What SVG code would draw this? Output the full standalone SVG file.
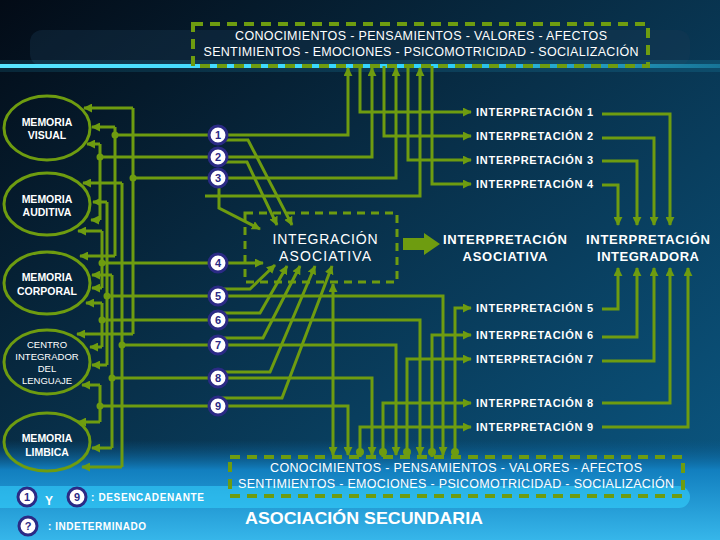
<svg xmlns="http://www.w3.org/2000/svg" width="720" height="540" viewBox="0 0 720 540">
<defs>
<linearGradient id="bg" x1="0" y1="0" x2="1" y2="1">
<stop offset="0" stop-color="#030b16"/>
<stop offset="0.45" stop-color="#08304a"/>
<stop offset="1" stop-color="#0b5a86"/>
</linearGradient>
<linearGradient id="bot" x1="0" y1="0" x2="0" y2="1">
<stop offset="0" stop-color="#0b5f96" stop-opacity="0"/>
<stop offset="0.3" stop-color="#127fbf"/>
<stop offset="1" stop-color="#36b6ea"/>
</linearGradient>
<linearGradient id="glow" x1="0" y1="0" x2="1" y2="0">
<stop offset="0" stop-color="#5fe8ff"/>
<stop offset="0.6" stop-color="#2fd4ff"/>
<stop offset="1" stop-color="#2fd4ff" stop-opacity="0.3"/>
</linearGradient>
<marker id="ah" viewBox="0 0 10 10" refX="9" refY="5" markerWidth="9" markerHeight="9" markerUnits="userSpaceOnUse" orient="auto-start-reverse">
<path d="M0,0 L10,5 L0,10 z" fill="#6e9c10"/>
</marker>
</defs>
<style>
.c{fill:none;stroke:#6e9c10;stroke-width:3}
.a{marker-end:url(#ah)}
.box{fill:none;stroke:#6e9c10;stroke-width:4;stroke-dasharray:10 7}
.ell{fill:none;stroke:#6e9c10;stroke-width:3}
.dot{fill:#6e9c10}
.t{font-family:"Liberation Sans",Arial,sans-serif;fill:#ffffff}
.b{font-weight:bold}
.nc{fill:#ffffff;stroke:#2b2a85;stroke-width:3}
.nt{font-family:"Liberation Sans",Arial,sans-serif;font-weight:bold;font-size:11px;fill:#2b2a85;text-anchor:middle}
</style>
<rect width="720" height="540" fill="url(#bg)"/>
<rect x="0" y="440" width="720" height="100" fill="url(#bot)"/>
<rect x="30" y="30" width="660" height="36" rx="12" fill="#1a3a52" opacity="0.35"/>
<rect x="0" y="64" width="720" height="4" fill="url(#glow)"/>
<rect x="0" y="60" width="720" height="12" fill="#2fd4ff" opacity="0.12"/>
<rect x="-10" y="486" width="700" height="22" rx="11" fill="#35d4ff" opacity="0.55"/>

<g id="connectors">
<!-- left bus: circle 1 -->
<path class="c" d="M210,135 H115 M115,127 V256"/>
<path class="c a" d="M115,127 H92"/><path class="c a" d="M115,256 H80"/>
<!-- circle 2 -->
<path class="c" d="M210,157 H100 M100,144 V220"/>
<path class="c a" d="M100,144 H87"/><path class="c a" d="M100,220 H91"/>
<!-- circle 3 -->
<path class="c" d="M210,178 H133 M133,108 V334"/>
<path class="c a" d="M133,108 H84"/><path class="c a" d="M133,334 H77"/>
<!-- circle 4 -->
<path class="c" d="M210,263 H102 M102,231 V288"/>
<path class="c a" d="M102,231 H78"/><path class="c a" d="M102,288 H92"/>
<!-- circle 5 -->
<path class="c" d="M210,296 H107 M107,202 V365"/>
<path class="c a" d="M107,202 H93"/><path class="c a" d="M107,365 H92"/>
<!-- circle 6 -->
<path class="c" d="M210,320 H102 M102,303 V347"/>
<path class="c a" d="M102,303 H86"/><path class="c a" d="M102,347 H90"/>
<!-- circle 7 -->
<path class="c" d="M210,345 H122 M122,183 V467"/>
<path class="c a" d="M122,183 H83"/><path class="c a" d="M122,467 H82"/>
<!-- circle 8 -->
<path class="c" d="M210,378 H112 M112,275 V448"/>
<path class="c a" d="M112,275 H92"/><path class="c a" d="M112,448 H92"/>
<!-- circle 9 -->
<path class="c" d="M210,406 H100 M100,385 V422"/>
<path class="c a" d="M100,385 H82"/><path class="c a" d="M100,422 H78"/>
<circle class="dot" cx="115" cy="135" r="3.5"/><circle class="dot" cx="100" cy="157" r="3.5"/>
<circle class="dot" cx="133" cy="178" r="3.5"/><circle class="dot" cx="102" cy="263" r="3.5"/>
<circle class="dot" cx="107" cy="296" r="3.5"/><circle class="dot" cx="102" cy="320" r="3.5"/>
<circle class="dot" cx="122" cy="345" r="3.5"/><circle class="dot" cx="112" cy="378" r="3.5"/>
<circle class="dot" cx="100" cy="406" r="3.5"/>

<!-- up to top box -->
<path class="c a" d="M220,135 H348 V68"/>
<path class="c a" d="M220,157 H372 V68"/>
<path class="c a" d="M220,178 H396 V68"/>
<path class="c a" d="M205,196 H420 V68"/>
<!-- top box down to interpretations 1-4 -->
<path class="c a" d="M360,66 V112 H471"/>
<path class="c a" d="M384,66 V136 H471"/>
<path class="c a" d="M408,66 V160 H471"/>
<path class="c a" d="M432,66 V184 H471"/>

<!-- diagonals into integracion -->
<path class="c a" d="M220,140 H248 L292,225"/>
<path class="c a" d="M220,162 H247 L277,225"/>
<path class="c a" d="M219,187 V208 L260,229"/>
<path class="c a" d="M220,263 H263"/>
<path class="c a" d="M220,289 H250 L275,265"/>
<path class="c a" d="M220,313 H260 L287,266"/>
<path class="c a" d="M220,338 H263 L300,266"/>
<path class="c a" d="M220,372 H270 L315,266"/>
<path class="c a" d="M220,398 H282 L332,266"/>

<!-- down to bottom box -->
<path class="c a" d="M220,296 H443 V455"/>
<path class="c a" d="M220,320 H420 V455"/>
<path class="c a" d="M220,345 H396 V455"/>
<path class="c a" d="M220,378 H372 V455"/>
<path class="c a" d="M220,406 H348 V455"/>
<path class="c a" d="M333,284 V455" style="marker-start:url(#ah)"/>
<!-- bottom box up to interpretations 5-9 -->
<path class="c a" d="M455,457 V308 H471"/>
<path class="c a" d="M432,457 V335 H471"/>
<path class="c a" d="M407,457 V359 H471"/>
<path class="c a" d="M383,457 V403 H471"/>
<path class="c a" d="M360,457 V427 H471"/>
<circle class="dot" cx="360" cy="452" r="4"/><circle class="dot" cx="383" cy="452" r="4"/>
<circle class="dot" cx="407" cy="452" r="4"/><circle class="dot" cx="432" cy="452" r="4"/>
<circle class="dot" cx="455" cy="452" r="4"/>

<!-- block arrow -->
<path d="M403,238 H424 V233 L440,244 L424,255 V250 H403 z" fill="#6e9c10"/>

<!-- right side to integradora -->
<path class="c a" d="M602,114 H670 V225"/>
<path class="c a" d="M602,138 H654 V225"/>
<path class="c a" d="M602,161 H637 V225"/>
<path class="c a" d="M602,185 H618 V225"/>
<path class="c a" d="M602,309 H618 V268"/>
<path class="c a" d="M602,337 H637 V268"/>
<path class="c a" d="M602,361 H654 V268"/>
<path class="c a" d="M602,403 H670 V268"/>
<path class="c a" d="M602,427 H688 V268"/>
</g>

<g id="top-box">
<rect class="box" x="193" y="24" width="455" height="42"/>
<text class="t" x="421" y="40" font-size="12.5" text-anchor="middle" textLength="372" lengthAdjust="spacing">CONOCIMIENTOS - PENSAMIENTOS - VALORES - AFECTOS</text>
<text class="t" x="421" y="56" font-size="12.5" text-anchor="middle" textLength="435" lengthAdjust="spacing">SENTIMIENTOS - EMOCIONES - PSICOMOTRICIDAD - SOCIALIZACIÓN</text>
</g>
<g id="bottom-box">
<rect class="box" x="230" y="457" width="453" height="39"/>
<text class="t" x="456" y="472" font-size="12.5" text-anchor="middle" textLength="372" lengthAdjust="spacing">CONOCIMIENTOS - PENSAMIENTOS - VALORES - AFECTOS</text>
<text class="t" x="456" y="488" font-size="12.5" text-anchor="middle" textLength="436" lengthAdjust="spacing">SENTIMIENTOS - EMOCIONES - PSICOMOTRICIDAD - SOCIALIZACIÓN</text>
</g>

<g id="memoria-visual"><ellipse class="ell" cx="47" cy="128" rx="43" ry="32"/>
<text class="t b" x="47" y="126" font-size="10.5" text-anchor="middle">MEMORIA</text>
<text class="t b" x="47" y="139" font-size="10.5" text-anchor="middle">VISUAL</text></g>
<g id="memoria-auditiva"><ellipse class="ell" cx="47" cy="204" rx="43" ry="31"/>
<text class="t b" x="47" y="203" font-size="10.5" text-anchor="middle">MEMORIA</text>
<text class="t b" x="47" y="216" font-size="10.5" text-anchor="middle">AUDITIVA</text></g>
<g id="memoria-corporal"><ellipse class="ell" cx="47" cy="283" rx="43" ry="31"/>
<text class="t b" x="47" y="281" font-size="10.5" text-anchor="middle">MEMORIA</text>
<text class="t b" x="47" y="295" font-size="10.5" text-anchor="middle">CORPORAL</text></g>
<g id="centro-lenguaje"><ellipse class="ell" cx="47" cy="362" rx="43" ry="32"/>
<text class="t" x="47" y="348" font-size="9.5" text-anchor="middle">CENTRO</text>
<text class="t" x="47" y="360" font-size="9.5" text-anchor="middle">INTEGRADOR</text>
<text class="t" x="47" y="372" font-size="9.5" text-anchor="middle">DEL</text>
<text class="t" x="47" y="384" font-size="9.5" text-anchor="middle">LENGUAJE</text></g>
<g id="memoria-limbica"><ellipse class="ell" cx="47" cy="442" rx="43" ry="29"/>
<text class="t b" x="47" y="442" font-size="10.5" text-anchor="middle">MEMORIA</text>
<text class="t b" x="47" y="456" font-size="10.5" text-anchor="middle">LIMBICA</text></g>

<g id="n1"><circle class="nc" cx="218" cy="135" r="9"/><text class="nt" x="218" y="139">1</text></g>
<g id="n2"><circle class="nc" cx="218" cy="157" r="9"/><text class="nt" x="218" y="161">2</text></g>
<g id="n3"><circle class="nc" cx="218" cy="178" r="9"/><text class="nt" x="218" y="182">3</text></g>
<g id="n4"><circle class="nc" cx="218" cy="263" r="9"/><text class="nt" x="218" y="267">4</text></g>
<g id="n5"><circle class="nc" cx="218" cy="296" r="9"/><text class="nt" x="218" y="300">5</text></g>
<g id="n6"><circle class="nc" cx="218" cy="320" r="9"/><text class="nt" x="218" y="324">6</text></g>
<g id="n7"><circle class="nc" cx="218" cy="345" r="9"/><text class="nt" x="218" y="349">7</text></g>
<g id="n8"><circle class="nc" cx="218" cy="378" r="9"/><text class="nt" x="218" y="382">8</text></g>
<g id="n9"><circle class="nc" cx="218" cy="406" r="9"/><text class="nt" x="218" y="410">9</text></g>

<g id="integracion"><rect x="245" y="213" width="152" height="69" fill="none" stroke="#6e9c10" stroke-width="3" stroke-dasharray="8 6"/>
<text class="t" x="325" y="244" font-size="14" text-anchor="middle" textLength="105" lengthAdjust="spacing">INTEGRACIÓN</text>
<text class="t" x="325" y="261" font-size="14" text-anchor="middle" textLength="92" lengthAdjust="spacing">ASOCIATIVA</text></g>
<g id="interp-asociativa">
<text class="t b" x="505" y="244" font-size="13" text-anchor="middle" textLength="124" lengthAdjust="spacing">INTERPRETACIÓN</text>
<text class="t b" x="505" y="261" font-size="13" text-anchor="middle" textLength="85" lengthAdjust="spacing">ASOCIATIVA</text></g>
<g id="interp-integradora">
<text class="t b" x="648" y="244" font-size="13" text-anchor="middle" textLength="124" lengthAdjust="spacing">INTERPRETACIÓN</text>
<text class="t b" x="648" y="261" font-size="13" text-anchor="middle" textLength="102" lengthAdjust="spacing">INTEGRADORA</text></g>

<g id="interpretaciones" class="t b" font-size="11">
<text x="476" y="116" textLength="117" lengthAdjust="spacing">INTERPRETACIÓN 1</text>
<text x="476" y="140" textLength="117" lengthAdjust="spacing">INTERPRETACIÓN 2</text>
<text x="476" y="164" textLength="117" lengthAdjust="spacing">INTERPRETACIÓN 3</text>
<text x="476" y="188" textLength="117" lengthAdjust="spacing">INTERPRETACIÓN 4</text>
<text x="476" y="312" textLength="117" lengthAdjust="spacing">INTERPRETACIÓN 5</text>
<text x="476" y="339" textLength="117" lengthAdjust="spacing">INTERPRETACIÓN 6</text>
<text x="476" y="363" textLength="117" lengthAdjust="spacing">INTERPRETACIÓN 7</text>
<text x="476" y="407" textLength="117" lengthAdjust="spacing">INTERPRETACIÓN 8</text>
<text x="476" y="431" textLength="117" lengthAdjust="spacing">INTERPRETACIÓN 9</text>
</g>

<g id="legend">
<circle class="nc" cx="27" cy="497" r="9"/><text class="nt" x="27" y="501">1</text>
<text class="t b" x="49" y="505" font-size="12" text-anchor="middle">Y</text>
<circle class="nc" cx="77" cy="497" r="9"/><text class="nt" x="77" y="501">9</text>
<text class="t b" x="91" y="501" font-size="10" textLength="113" lengthAdjust="spacing">: DESENCADENANTE</text>
<circle class="nc" cx="28" cy="526" r="9"/><text class="nt" x="28" y="530">?</text>
<text class="t b" x="48" y="530" font-size="10" textLength="98" lengthAdjust="spacing">: INDETERMINADO</text>
</g>
<text id="title" class="t b" x="364" y="524" font-size="17" text-anchor="middle" textLength="238" lengthAdjust="spacingAndGlyphs">ASOCIACIÓN SECUNDARIA</text>
</svg>
